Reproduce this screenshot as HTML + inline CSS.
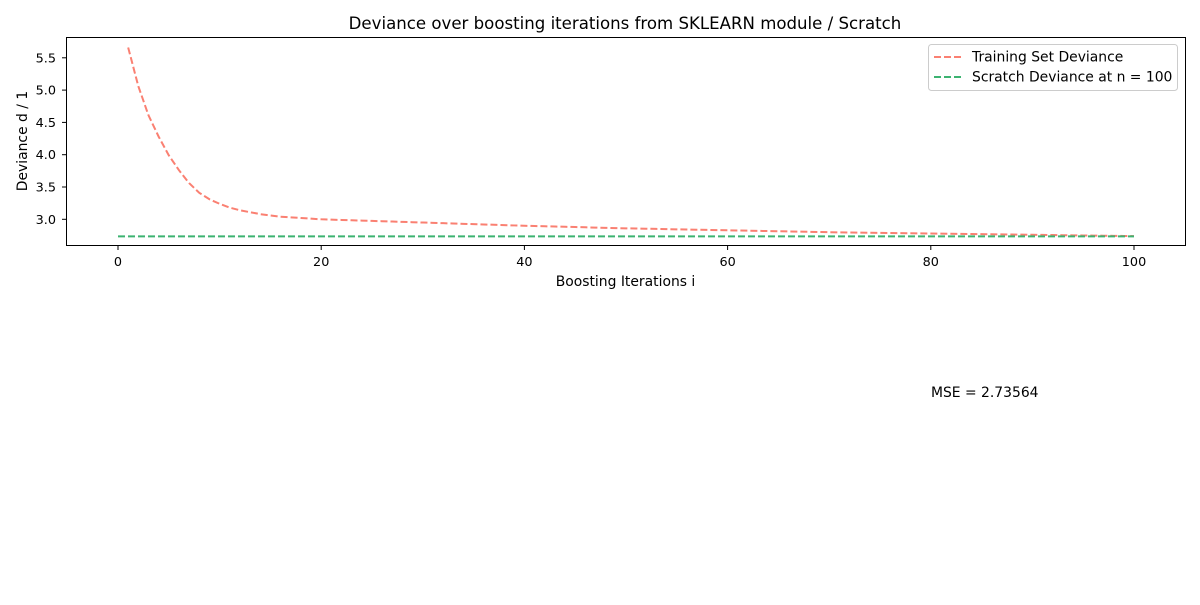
<!DOCTYPE html>
<html><head><meta charset="utf-8"><style>
body{margin:0;background:#fff;font-family:"Liberation Sans","DejaVu Sans",sans-serif}
svg text{font-family:"DejaVu Sans","Liberation Sans",sans-serif;fill:#000}
</style></head><body>
<svg id="chart" width="1200" height="600" xmlns="http://www.w3.org/2000/svg">
<rect width="1200" height="600" fill="#fff"/>
<text x="625" y="29" font-size="16.6" text-anchor="middle">Deviance over boosting iterations from SKLEARN module / Scratch</text>
<path id="train" fill="none" stroke="#fa8072" stroke-width="2" stroke-dasharray="7,3"/>
<path id="scratch" fill="none" stroke="#3cb371" stroke-width="2" stroke-dasharray="7,3"/>
<rect x="66.5" y="37.5" width="1119" height="208" fill="none" stroke="#000" stroke-width="1"/>
<g id="ticks"></g>
<text x="625.5" y="286" font-size="13.9" text-anchor="middle">Boosting Iterations i</text>
<text transform="translate(27,141) rotate(-90)" font-size="13.9" text-anchor="middle">Deviance d / 1</text>
<g>
<rect x="928.5" y="44.5" width="249" height="46" rx="3" fill="#fff" fill-opacity="0.8" stroke="#ccc"/>
<line x1="934" y1="57" x2="962" y2="57" stroke="#fa8072" stroke-width="2" stroke-dasharray="7,3"/>
<text x="972" y="61.5" font-size="13.9">Training Set Deviance</text>
<line x1="934" y1="77" x2="962" y2="77" stroke="#3cb371" stroke-width="2" stroke-dasharray="7,3"/>
<text x="972" y="81.5" font-size="13.9">Scratch Deviance at n = 100</text>
</g>
<text id="mse" x="931" y="397" font-size="13.9">MSE = 2.73564</text>
</svg>
<script>
const iterations = Array.from({length:100},(_, k)=>k+1);
const trainDeviance = [5.66,5.06,4.61,4.28,3.99,3.76,3.56,3.41,3.31,3.24,3.18,3.14,3.11,3.08,3.06,3.04,3.03,3.02,3.01,3.00,
2.995,2.99,2.985,2.98,2.975,2.97,2.965,2.96,2.955,2.95,2.945,2.94,2.935,2.93,2.925,2.92,2.915,2.91,2.905,2.90,
2.896,2.892,2.888,2.884,2.88,2.876,2.872,2.868,2.864,2.86,2.857,2.854,2.851,2.848,2.845,2.842,2.839,2.836,2.833,2.83,
2.827,2.824,2.821,2.818,2.815,2.812,2.809,2.806,2.803,2.80,2.798,2.796,2.794,2.792,2.79,2.788,2.786,2.784,2.782,2.78,
2.778,2.776,2.774,2.772,2.77,2.768,2.766,2.764,2.762,2.76,2.758,2.756,2.754,2.752,2.75,2.748,2.746,2.744,2.742,2.74];
const scratchRange = [0,100];
const scratchValue = 2.73564;
const xTicks = [0,20,40,60,80,100];
const yTicks = [3.0,3.5,4.0,4.5,5.0,5.5];
const sx = v => 118 + v*10.16;
const sy = v => 219.3 - (v-3.0)*64.6;
const ns="http://www.w3.org/2000/svg";
document.getElementById('train').setAttribute('d', iterations.map((it,k)=>(k?'L':'M')+sx(it)+','+sy(trainDeviance[k])).join(''));
document.getElementById('scratch').setAttribute('d','M'+sx(scratchRange[0])+','+sy(scratchValue)+'L'+sx(scratchRange[1])+','+sy(scratchValue));
document.getElementById('mse').textContent='MSE = '+scratchValue;
const tg=document.getElementById('ticks');
xTicks.forEach(t=>{
  const l=document.createElementNS(ns,'line');
  l.setAttribute('x1',sx(t));l.setAttribute('x2',sx(t));l.setAttribute('y1',245.5);l.setAttribute('y2',250);l.setAttribute('stroke','#000');
  
  
  tg.appendChild(l);
  const tx=document.createElementNS(ns,'text');
  tx.setAttribute('x',sx(t));tx.setAttribute('y',266);tx.setAttribute('font-size','12.8');tx.setAttribute('text-anchor','middle');
  
  
  tx.textContent=t;tg.appendChild(tx);
});
yTicks.forEach(t=>{
  const l=document.createElementNS(ns,'line');
  l.setAttribute('x1',62);l.setAttribute('x2',66.5);l.setAttribute('y1',sy(t));l.setAttribute('y2',sy(t));l.setAttribute('stroke','#000');
  
  
  tg.appendChild(l);
  const tx=document.createElementNS(ns,'text');
  tx.setAttribute('x',56);tx.setAttribute('y',sy(t)+4.5);tx.setAttribute('font-size','12.8');tx.setAttribute('text-anchor','end');
  
  
  tx.textContent=t.toFixed(1);tg.appendChild(tx);
});
</script>
</body></html>
